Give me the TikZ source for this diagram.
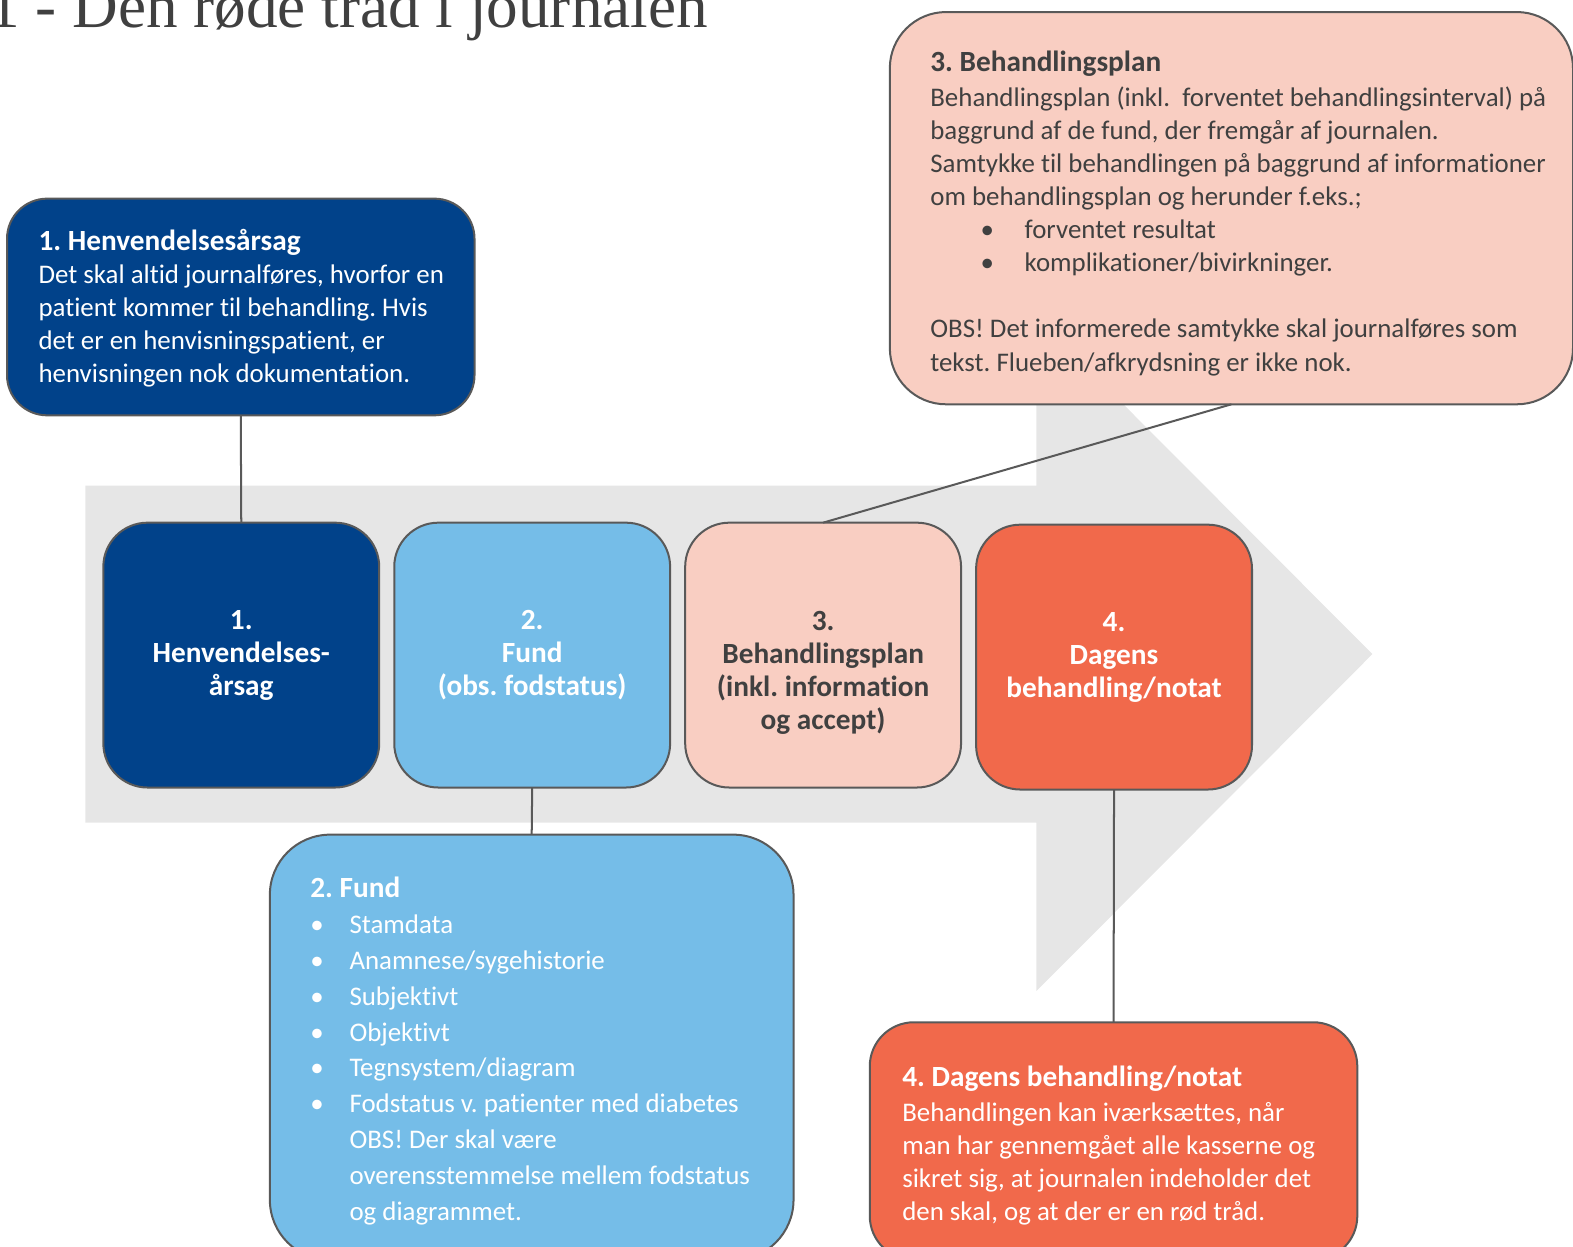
\documentclass[tikz,border=0pt]{standalone}
\usepackage{fontspec}
\setmainfont{Carlito}[Ligatures=NoCommon]
\newfontfamily\titlefont{Liberation Serif}
\usetikzlibrary{positioning}
\frenchspacing

\definecolor{darkblue}{HTML}{01428A}
\definecolor{lightblue}{HTML}{75BDE8}
\definecolor{planpink}{HTML}{F9CEC2}
\definecolor{coral}{HTML}{F1694B}
\definecolor{linegray}{HTML}{595959}
\definecolor{textgray}{HTML}{404040}
\definecolor{arrowgray}{HTML}{E6E6E6}

\newcommand{\boxhead}[1]{{\bfseries\fontsize{14.6}{16.5}\selectfont #1}}

\begin{document}
\begin{tikzpicture}[x=0.5pt, y=-0.5pt,
    every node/.style={font=\fontsize{13.4}{16.5}\selectfont},
    box/.style={draw=linegray, line width=1pt, rounded corners=22pt, inner sep=0pt, outer sep=0pt},
    stage/.style={box, minimum width=137.5pt, minimum height=132pt, align=center, font=\bfseries\fontsize{14.6}{16.5}\selectfont},
    info/.style={anchor=north west, align=left, inner sep=0pt},
    link/.style={draw=linegray, line width=1pt}]
    \useasboundingbox (0,0) rectangle (1568,1243);
    \clip (0,0) rectangle (1568,1243);

    \node[anchor=base east, inner sep=0pt, text=textgray, font=\titlefont\fontsize{31.5}{31.5}\selectfont] (title) at (706,27) {1 - Den røde tråd i journalen};

    \fill[arrowgray] (85,484) -- (1033,484) -- (1033,316) -- (1368,652) -- (1033,988) -- (1033,820) -- (85,820) -- cycle;

    \node[stage, fill=darkblue, text=white] (s1) at (240.5,653) {1.\\Henvendelses-\\årsag};
    \node[stage, fill=lightblue, text=white, right=7.5pt of s1] (s2) {2.\\Fund\\(obs. fodstatus)};
    \node[stage, fill=planpink, text=textgray, right=7.5pt of s2] (s3) {\mbox{}\\[10.5pt]3.\\Behandlingsplan\\(inkl. information\\og accept)};
    \node[stage, fill=coral, text=white, right=7.5pt of s3, yshift=-1pt] (s4) {4.\\Dagens\\behandling/notat};

    \node[box, fill=darkblue, minimum width=233pt, minimum height=108pt, rounded corners=20pt] (b1) at (240,306) {};
    \node[info, text=white] (t1) at ([shift={(31,30)}]b1.north west) {\boxhead{1. Henvendelsesårsag}\\
        Det skal altid journalføres, hvorfor en\\
        patient kommer til behandling. Hvis\\
        det er en henvisningspatient, er\\
        henvisningen nok dokumentation.};

    \node[box, fill=lightblue, minimum width=261pt, minimum height=212pt, rounded corners=30pt] (b2) at (530,1044) {};
    \node[info, text=white, font=\fontsize{13.4}{17.85}\selectfont] (t2) at ([shift={(40,42)}]b2.north west) {\boxhead{2. Fund}\\
        \makebox[19.5pt][l]{\textbullet}Stamdata\\
        \makebox[19.5pt][l]{\textbullet}Anamnese/sygehistorie\\
        \makebox[19.5pt][l]{\textbullet}Subjektivt\\
        \makebox[19.5pt][l]{\textbullet}Objektivt\\
        \makebox[19.5pt][l]{\textbullet}Tegnsystem/diagram\\
        \makebox[19.5pt][l]{\textbullet}Fodstatus v. patienter med diabetes\\
        \hspace*{19.5pt}OBS! Der skal være\\
        \hspace*{19.5pt}overensstemmelse mellem fodstatus\\
        \hspace*{19.5pt}og diagrammet.};

    \node[box, fill=planpink, minimum width=340.5pt, minimum height=195.5pt, rounded corners=28pt] (b3) at (1227.5,207.5) {};
    \node[info, text=textgray] (t3) at ([shift={(40,38)}]b3.north west) {\boxhead{3. Behandlingsplan}\\[1pt]
        Behandlingsplan (inkl.\ \ forventet behandlingsinterval) på\\
        baggrund af de fund, der fremgår af journalen.\\
        Samtykke til behandlingen på baggrund af informationer\\
        om behandlingsplan og herunder f.eks.;\\
        \hspace*{25pt}\makebox[22pt][l]{\textbullet}forventet resultat\\
        \hspace*{25pt}\makebox[22pt][l]{\textbullet}komplikationer/bivirkninger.\\[16.5pt]
        OBS! Det informerede samtykke skal journalføres som\\
        tekst. Flueben/afkrydsning er ikke nok.};

    \node[box, fill=coral, minimum width=243pt, minimum height=118.5pt] (b4) at (1110,1137.5) {};
    \node[info, text=white] (t4) at ([shift={(32,43)}]b4.north west) {\boxhead{4. Dagens behandling/notat}\\[1pt]
        Behandlingen kan iværksættes, når\\
        man har gennemgået alle kasserne og\\
        sikret sig, at journalen indeholder det\\
        den skal, og at der er en rød tråd.};

    \path[link]
    (b1.south) edge (s1.north)
    (s2.south) edge (b2.north)
    (b3.south) edge (s3.north)
    (s4.south) edge (b4.north);
\end{tikzpicture}
\end{document}
